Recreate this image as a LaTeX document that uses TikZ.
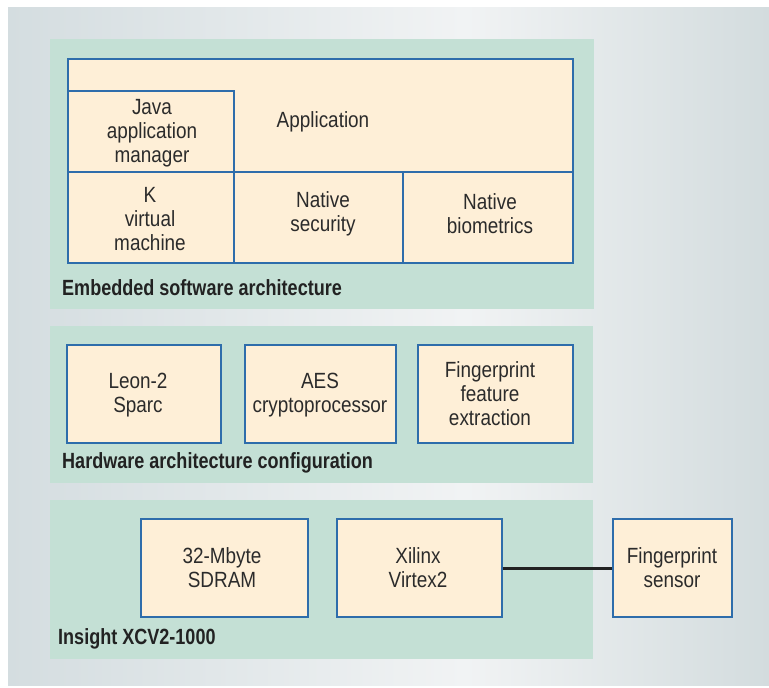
\documentclass[tikz,border=0pt]{standalone}
\usepackage{fontspec}
\setmainfont{Liberation Sans}[FakeStretch=0.86]
\newfontfamily\lblfont{Liberation Sans}[FakeStretch=0.82]
\definecolor{bgL}{HTML}{D4DDE0}
\definecolor{bgM}{HTML}{F1F3F4}
\definecolor{bgR}{HTML}{D3DCDE}
\definecolor{panelc}{HTML}{C4E0D5}
\definecolor{boxfill}{HTML}{FEEFD7}
\definecolor{boxdraw}{HTML}{2E6DAB}
\definecolor{textc}{HTML}{2B2B2B}
\definecolor{lblc}{HTML}{222222}
\pgfdeclarehorizontalshading{bgshade}{100bp}{color(0bp)=(bgL); color(25bp)=(bgL); color(55bp)=(bgM); color(75bp)=(bgR); color(100bp)=(bgR)}
\tikzset{
  panel/.style={fill=panelc},
  box/.style={draw=boxdraw, fill=boxfill, line width=1.3pt, inner sep=0pt},
  txt/.style={inner sep=0pt, align=center, font=\fontsize{22}{24}\selectfont, text=textc},
  lbl/.style={inner sep=0pt, font=\lblfont\bfseries\fontsize{22}{24}\selectfont, text=lblc},
  conn/.style={draw=lblc, line width=3pt}
}
\begin{document}
\begin{tikzpicture}[x=1pt,y=-1pt]
\useasboundingbox (0,0) rectangle (769,688);
\fill[white] (0,0) rectangle (769,688);
\shade[shading=bgshade] (8,7) rectangle (769,685);
% panels
\fill[panel] (50,39) rectangle (594,309);
\fill[panel] (50,326) rectangle (593,483);
\fill[panel] (50,500) rectangle (593,659);
% embedded software
\node[box, minimum width=505pt, minimum height=204pt] (app) at (320.5,161) {};
\node[txt, anchor=base] (apptxt) at (323,127) {Application};
\node[box, minimum width=166pt, minimum height=81pt] (java) at (151,131.5) {};
\node[txt] (javatxt) at (152,133.5) {Java\\application\\manager};
\node[box, minimum width=166pt, minimum height=91pt] (kvm) at (151,217.5) {};
\node[txt] (kvmtxt) at (150,219.5) {K\\virtual\\machine};
\node[box, minimum width=169pt, minimum height=91pt] (nsec) at (318.5,217.5) {};
\node[txt] (nsectxt) at (323,213.5) {Native\\security};
\node[box, minimum width=170pt, minimum height=91pt] (nbio) at (488,217.5) {};
\node[txt] (nbiotxt) at (490,213.5) {Native\\biometrics};
\node[lbl, anchor=base west] (l1) at (62,295) {Embedded software architecture};
% hardware architecture
\node[box, minimum width=154pt, minimum height=98pt] (leon) at (144,394) {};
\node[txt] (leontxt) at (138,395.5) {Leon-2\\Sparc};
\node[box, minimum width=151pt, minimum height=98pt] (aes) at (320.5,394) {};
\node[txt] (aestxt) at (320,395.5) {AES\\cryptoprocessor};
\node[box, minimum width=155pt, minimum height=98pt] (ffe) at (495.5,394) {};
\node[txt] (ffetxt) at (490,394) {Fingerprint\\feature\\extraction};
\node[lbl, anchor=base west] (l2) at (62,468) {Hardware architecture configuration};
% insight
\node[box, minimum width=167pt, minimum height=98pt] (sdram) at (224.5,568) {};
\node[txt] (sdramtxt) at (222,568) {32-Mbyte\\SDRAM};
\node[box, minimum width=165pt, minimum height=98pt] (xil) at (419.5,568) {};
\node[txt] (xiltxt) at (418,568) {Xilinx\\Virtex2};
\node[box, minimum width=119pt, minimum height=98pt] (sens) at (672.5,568) {};
\node[txt] (senstxt) at (672,568) {Fingerprint\\sensor};
\node[lbl, anchor=base west] (l3) at (58,644) {Insight XCV2-1000};
\draw[conn] (xil.east) -- (sens.west);
\end{tikzpicture}
\end{document}
